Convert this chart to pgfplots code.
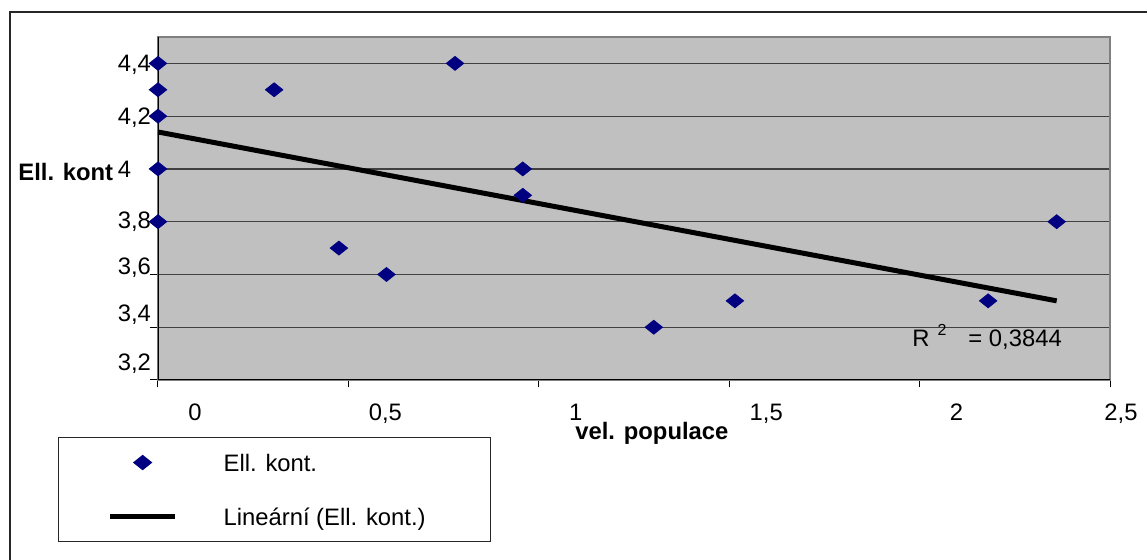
\documentclass[border=0pt]{standalone}
\usepackage{pgfplots}
\pgfplotsset{compat=1.18}
\usepackage{fontspec}
\setmainfont{Liberation Sans}
\definecolor{navy}{RGB}{0,0,128}
\definecolor{plotgray}{RGB}{192,192,192}
\definecolor{framegray}{RGB}{128,128,128}
\newcommand\xl[2]{\makebox[0pt]{\hspace{#1}#2}}
\newcommand\yl[2]{\smash{\raisebox{\dimexpr #1-4.3pt\relax}{#2}}}
\pgfplotsset{
  diamleg/.style={legend image code/.code={\draw[mark repeat=2,mark phase=2,##1] plot coordinates {(0pt,0pt) (16.25pt,0pt) (32.5pt,0pt)};}},
  lineleg/.style={legend image code/.code={\draw[##1] (0pt,0pt) -- (32.5pt,0pt);}},
}
\begin{document}
\begin{tikzpicture}[font=\fontsize{11.9}{14}\selectfont]
\path[use as bounding box] (0,0) rectangle (573.5pt,-280pt);
\draw[black!85, line width=0.6pt] (5pt,-280pt) -- (5pt,-6pt) -- (573.5pt,-6pt);
\begin{axis}[
  at={(79pt,-18.5pt)}, anchor=north west,
  scale only axis, width=476pt, height=171.5pt,
  xmin=0, xmax=2.5, ymin=3.2, ymax=4.5,
  xtick={0,0.5,1,1.5,2,2.5},
  xticklabels={{\xl{37pt}{0}},{\xl{37pt}{0,5}},{\xl{37pt}{1}},{\xl{37pt}{1,5}},{\xl{37pt}{2}},{\xl{11pt}{2,5}}},
  ytick={3.2,3.4,3.6,3.8,4.0,4.2,4.4},
  yticklabels={{\yl{9pt}{3,2}},{\yl{7pt}{3,4}},{\yl{4.5pt}{3,6}},{\yl{0.75pt}{3,8}},{\yl{0pt}{4}},{\yl{0pt}{4,2}},{\yl{0pt}{4,4}}},
  axis background/.style={fill=plotgray},
  axis line style={draw=framegray, line width=1pt},
  ymajorgrids, grid style={black!75, line width=0.6pt},
  tick align=outside, xtick pos=bottom, ytick pos=left,
  major tick length=3.75pt, tick style={black, line width=0.5pt},
  xticklabel style={anchor=base, yshift=-16.3pt, inner sep=0pt},
  yticklabel style={anchor=west, inner xsep=0pt, xshift=-16.5pt},
  legend cell align=left,
  legend style={at={(axis description cs:-0.105,-0.166)}, anchor=north west,
    draw=black!85, fill=white, line width=0.6pt,
    inner xsep=24.5pt, inner ysep=8.2pt, row sep=18.4pt, column sep=23pt,
    nodes={inner xsep=0pt, inner ysep=0pt, text height=8.6pt, text depth=0pt}},
]
\addplot[only marks, mark=diamond*, mark size=5.8pt, color=navy,
  mark options={yscale=0.6, fill=navy, draw=navy}, diamleg]
  coordinates {
  (0,4.4) (0,4.3) (0,4.2) (0,4.0) (0,3.8)
  (0.305,4.3) (0.78,4.4) (0.475,3.7) (0.60,3.6)
  (0.958,4.0) (0.958,3.9) (1.302,3.4) (1.515,3.5)
  (2.18,3.5) (2.36,3.8)
  };
\addlegendentry{Ell. kont.}
\addplot[black, line width=2.5pt, lineleg]
  coordinates {(0,4.14) (2.36,3.50)};
\addlegendentry{Lineární (Ell. kont.)\hspace*{8pt}}
\draw[black, line width=1pt] (rel axis cs:0,1) -- (rel axis cs:0,0) -- (rel axis cs:1,0);
\end{axis}
\node[anchor=base west, inner sep=0pt, font=\fontsize{11.9}{14}\selectfont\bfseries] at (9pt,-90.25pt) {Ell. kont};
\node[anchor=base west, inner sep=0pt, font=\fontsize{11.9}{14}\selectfont\bfseries] at (287.5pt,-219.75pt) {vel. populace};
\node[anchor=base west, inner sep=0pt] at (456pt,-173.25pt) {R\hspace{4pt}\raisebox{0.45em}{\fontsize{8}{9}\selectfont 2}\hspace{11pt}= 0,3844};
\end{tikzpicture}
\end{document}
